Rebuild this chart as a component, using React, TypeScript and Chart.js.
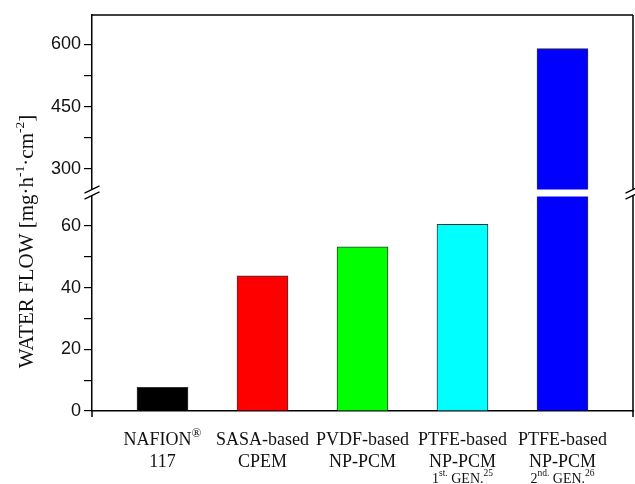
import React, { useEffect, useRef } from "react";
import { Chart, registerables } from "chart.js";

Chart.register(...registerables);

// ---- data ----
const CATEGORIES = [
  "NAFION^{®}\n117",
  "SASA-based\nCPEM",
  "PVDF-based\nNP-PCM",
  "PTFE-based\nNP-PCM\n1^{st.} GEN.^{25}",
  "PTFE-based\nNP-PCM\n2^{nd.} GEN.^{26}",
];
const WATER_FLOW = [7.7, 43.8, 53.2, 60.5, 590];
const BAR_COLORS = ["#000000", "#ff0000", "#00ff00", "#00ffff", "#0000ff"];
const Y_TITLE = "WATER FLOW [mg·h^{-1}·cm^{-2}]";
const LOW_RANGE = [0, 71];
const HIGH_RANGE = [244.6, 670.8];
const LOW_TICK_STEP = 10;
const LOW_LABEL_STEP = 20;
const HIGH_TICK_STEP = 75;
const HIGH_LABEL_STEP = 150;

const SERIF = '"Liberation Serif", "Times New Roman", serif';
const SANS = '"Liberation Sans", Arial, sans-serif';

type Seg = { t: string; sup: boolean };
function parseRich(s: string): Seg[] {
  const out: Seg[] = [];
  const re = /\^\{([^}]*)\}/g;
  let last = 0;
  let m: RegExpExecArray | null;
  while ((m = re.exec(s))) {
    if (m.index > last) out.push({ t: s.slice(last, m.index), sup: false });
    out.push({ t: m[1], sup: true });
    last = re.lastIndex;
  }
  if (last < s.length) out.push({ t: s.slice(last), sup: false });
  return out;
}

function drawRich(
  ctx: CanvasRenderingContext2D,
  s: string,
  cx: number,
  baseline: number,
  size: number,
  supSize: number,
  raise: number
) {
  const segs = parseRich(s);
  const fontOf = (sup: boolean) => `${sup ? supSize : size}px ${SERIF}`;
  let total = 0;
  const widths = segs.map((sg) => {
    ctx.font = fontOf(sg.sup);
    const w = ctx.measureText(sg.t).width;
    total += w;
    return w;
  });
  let x = cx - total / 2;
  ctx.textAlign = "left";
  ctx.textBaseline = "alphabetic";
  segs.forEach((sg, i) => {
    ctx.font = fontOf(sg.sup);
    ctx.fillText(sg.t, x, sg.sup ? baseline - raise : baseline);
    x += widths[i];
  });
}

const decorPlugin = {
  id: "decor",
  afterDraw(chart: any) {
    const ctx: CanvasRenderingContext2D = chart.ctx;
    const { left, right, top, bottom } = chart.chartArea;
    const breakY = chart.scales.yLow.top;
    ctx.save();
    // gap through broken bar
    ctx.fillStyle = "#ffffff";
    ctx.fillRect(left + 1, breakY - 2.5, right - left - 2, 7);

    // spines
    ctx.strokeStyle = "#000";
    ctx.lineWidth = 1.5;
    ctx.beginPath();
    ctx.moveTo(left - 0.75, top);
    ctx.lineTo(right, top);
    ctx.moveTo(right, top);
    ctx.lineTo(right, bottom + 6);
    ctx.moveTo(left, bottom);
    ctx.lineTo(left, bottom + 6);
    ctx.stroke();

    // break marks
    const y1 = breakY - 2.5;
    const y2 = breakY + 3.5;
    const hw = 7.5;
    const dy = 3.6;
    for (const x of [left, right]) {
      ctx.fillStyle = "#ffffff";
      ctx.beginPath();
      ctx.moveTo(x - hw, y1 + dy);
      ctx.lineTo(x + hw, y1 - dy);
      ctx.lineTo(x + hw, y2 - dy);
      ctx.lineTo(x - hw, y2 + dy);
      ctx.closePath();
      ctx.fill();
      ctx.strokeStyle = "#000";
      ctx.lineWidth = 1.3;
      ctx.beginPath();
      ctx.moveTo(x - hw, y1 + dy);
      ctx.lineTo(x + hw, y1 - dy);
      ctx.moveTo(x - hw, y2 + dy);
      ctx.lineTo(x + hw, y2 - dy);
      ctx.stroke();
    }

    // category labels
    ctx.fillStyle = "#111";
    const xs = chart.scales.x;
    const baselines = [445, 467, 483];
    CATEGORIES.forEach((cat, i) => {
      const cx = xs.getPixelForValue(i);
      cat.split("\n").forEach((line, li) => {
        if (li < 2) drawRich(ctx, line, cx, baselines[li], 18, 13, 8);
        else drawRich(ctx, line, cx, baselines[li], 14, 9.5, 7);
      });
    });

    // y title
    ctx.save();
    ctx.translate(25, 241.5);
    ctx.rotate(-Math.PI / 2);
    drawRich(ctx, Y_TITLE, 0, 7.5, 21, 13.5, 8.5);
    ctx.restore();

    ctx.restore();
  },
};

export default function App() {
  const ref = useRef<HTMLCanvasElement>(null);
  useEffect(() => {
    const canvas = ref.current!;
    const lowData = WATER_FLOW.map((v, i) => ({ x: i, y: Math.min(v, LOW_RANGE[1]) }));
    const highData = WATER_FLOW.map((v, i) => ({ x: i, y: [HIGH_RANGE[0], v], v })).filter(
      (d) => d.v > LOW_RANGE[1]
    );
    const tickFont = { family: SANS, size: 18 };
    const chart = new Chart(canvas, {
      type: "bar",
      data: {
        datasets: [
          {
            data: lowData as any,
            xAxisID: "x",
            yAxisID: "yLow",
            backgroundColor: BAR_COLORS,
            borderColor: "#333",
            borderWidth: 1,
            barThickness: 51,
            grouped: false,
          } as any,
          {
            data: highData as any,
            xAxisID: "x",
            yAxisID: "yHigh",
            backgroundColor: (c: any) => BAR_COLORS[c.raw ? c.raw.x : 0],
            borderColor: "#333",
            borderWidth: 1,
            barThickness: 51,
            grouped: false,
            borderSkipped: "bottom",
          } as any,
        ],
      },
      options: {
        responsive: false,
        animation: false,
        devicePixelRatio: 1,
        layout: { padding: { top: 15, right: 2, left: 0, bottom: 0 } },
        plugins: { legend: { display: false }, tooltip: { enabled: false } },
        scales: {
          x: {
            type: "linear",
            min: -0.705,
            max: 4.705,
            offset: false,
            grid: { display: false },
            border: { display: true, color: "#000", width: 1.5 },
            ticks: { display: false },
            afterFit: (s: any) => {
              s.height = 73;
            },
          },
          yLow: {
            type: "linear",
            position: "left",
            stack: "y",
            stackWeight: 219,
            min: LOW_RANGE[0],
            max: LOW_RANGE[1],
            grid: { drawOnChartArea: false, color: "#000", lineWidth: 1.2, tickLength: 8 },
            border: { display: true, color: "#000", width: 1.5 },
            ticks: {
              stepSize: LOW_TICK_STEP,
              autoSkip: false,
              includeBounds: false,
              padding: 3,
              color: "#111",
              font: tickFont,
              callback: (v: any) => (Number(v) % LOW_LABEL_STEP === 0 ? String(v) : ""),
            },
            afterBuildTicks: (s: any) => {
              s.ticks = s.ticks.filter((t: any) => t.value <= LOW_RANGE[1] - LOW_TICK_STEP / 2 - 3);
            },
            afterFit: (s: any) => {
              s.width = 92;
            },
          },
          yHigh: {
            type: "linear",
            position: "left",
            stack: "y",
            stackWeight: 177,
            min: HIGH_RANGE[0],
            max: HIGH_RANGE[1],
            grid: { drawOnChartArea: false, color: "#000", lineWidth: 1.2, tickLength: 8 },
            border: { display: true, color: "#000", width: 1.5 },
            ticks: {
              stepSize: HIGH_TICK_STEP,
              autoSkip: false,
              includeBounds: false,
              padding: 3,
              color: "#111",
              font: tickFont,
              callback: (v: any) => (Number(v) % HIGH_LABEL_STEP === 0 ? String(v) : ""),
            },
            afterFit: (s: any) => {
              s.width = 92;
            },
          },
        },
      } as any,
      plugins: [decorPlugin],
    });
    return () => chart.destroy();
  }, []);
  return (
    <div style={{ position: "fixed", left: 0, top: 0, width: 635, height: 484, background: "#fff" }}>
      <canvas ref={ref} width={635} height={484} style={{ display: "block" }} />
    </div>
  );
}
